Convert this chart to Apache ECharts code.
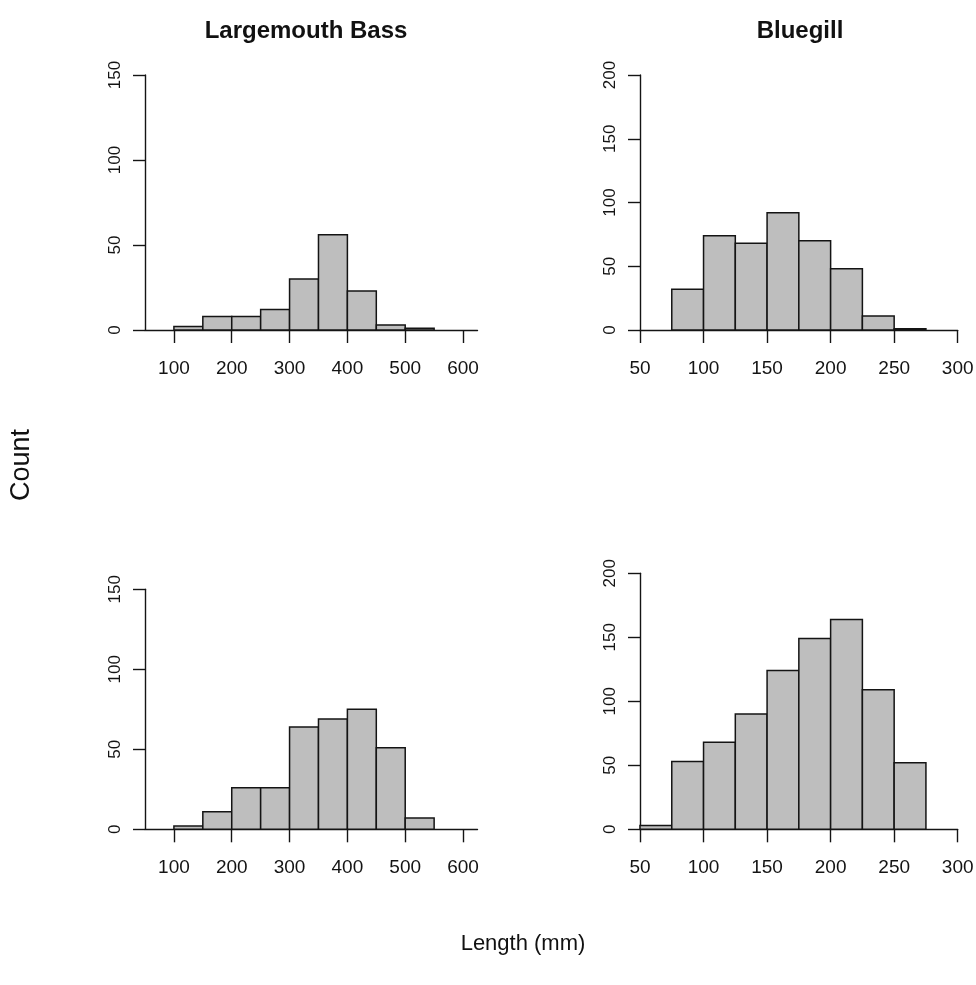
<!DOCTYPE html>
<html><head><meta charset="utf-8">
<script src="https://cdn.jsdelivr.net/npm/echarts@6/dist/echarts.min.js"></script>
<style>html,body{margin:0;padding:0;background:#fff}#c{width:976px;height:985px}</style>
</head><body><div id="c"></div>
<script>
// ---- data ----
const panelTitles = ['Largemouth Bass', 'Bluegill'];
const yAxisTitle = 'Count';
const xAxisTitle = 'Length (mm)';

const lmbBinWidth = 50;
const bgBinWidth = 25;

const lmbTopStarts = [100, 150, 200, 250, 300, 350, 400, 450, 500];
const lmbTopCounts = [2, 8, 8, 12, 30, 56, 23, 3, 1];

const bgTopStarts = [75, 100, 125, 150, 175, 200, 225, 250];
const bgTopCounts = [32, 74, 68, 92, 70, 48, 11, 1];

const lmbBottomStarts = [100, 150, 200, 250, 300, 350, 400, 450, 500];
const lmbBottomCounts = [2, 11, 26, 26, 64, 69, 75, 51, 7];

const bgBottomStarts = [50, 75, 100, 125, 150, 175, 200, 225, 250];
const bgBottomCounts = [3, 53, 68, 90, 124, 149, 164, 109, 52];

const lmbXTicks = [100, 200, 300, 400, 500, 600];
const bgXTicks = [50, 100, 150, 200, 250, 300];
const lmbYMax = 150;
const bgYMax = 200;

// ---- chart ----
const FONT = '"Liberation Sans", Arial, Helvetica, sans-serif';
const AX = '#141414';
const chart = echarts.init(document.getElementById('c'), null, {renderer: 'canvas'});

const grids = [
  {left: 145, top: 75, width: 332.5, height: 255},
  {left: 640, top: 75, width: 317.7, height: 255},
  {left: 145, top: 589.3, width: 332.5, height: 240},
  {left: 640, top: 573.3, width: 317.7, height: 256}
].map(g => Object.assign({containLabel: false, outerBoundsMode: 'none', show: false}, g));

function xAxis(i, min, max, ticks) {
  return {
    type: 'value', gridIndex: i, min: min, max: max, position: 'bottom',
    axisLine: {show: true, onZero: false, lineStyle: {color: AX, width: 1.4}},
    axisTick: {show: true, length: 13, customValues: ticks, lineStyle: {color: AX, width: 1.4}},
    axisLabel: {show: true, customValues: ticks, margin: 29, fontSize: 19, fontFamily: FONT, color: '#141414'},
    splitLine: {show: false}
  };
}
function yAxis(i, max) {
  return {
    type: 'value', gridIndex: i, min: 0, max: max, interval: 50,
    axisLine: {show: true, onZero: false, lineStyle: {color: AX, width: 1.4}},
    axisTick: {show: true, length: 12, lineStyle: {color: AX, width: 1.4}},
    axisLabel: {show: true, rotate: 90, margin: 21, fontSize: 17, fontFamily: FONT, color: '#141414'},
    splitLine: {show: false}
  };
}

function histSeries(i, starts, counts, w) {
  return {
    type: 'custom', xAxisIndex: i, yAxisIndex: i,
    encode: {x: 0, y: 1},
    clip: false,
    data: starts.map((s, k) => [s, counts[k]]),
    renderItem: function (params, api) {
      const x0 = api.value(0), c = api.value(1);
      const p0 = api.coord([x0, 0]);
      const p1 = api.coord([x0 + w, c]);
      return {
        type: 'rect',
        shape: {x: p0[0], y: p1[1], width: p1[0] - p0[0], height: p0[1] - p1[1]},
        style: {fill: '#bebebe', stroke: '#141414', lineWidth: 1.5}
      };
    },
    z: 3
  };
}

const option = {
  backgroundColor: '#ffffff',
  animation: false,
  grid: grids,
  xAxis: [
    xAxis(0, 50, 625, lmbXTicks),
    xAxis(1, 50, 300, bgXTicks),
    xAxis(2, 50, 625, lmbXTicks),
    xAxis(3, 50, 300, bgXTicks)
  ],
  yAxis: [yAxis(0, lmbYMax), yAxis(1, bgYMax), yAxis(2, lmbYMax), yAxis(3, bgYMax)],
  series: [
    histSeries(0, lmbTopStarts, lmbTopCounts, lmbBinWidth),
    histSeries(1, bgTopStarts, bgTopCounts, bgBinWidth),
    histSeries(2, lmbBottomStarts, lmbBottomCounts, lmbBinWidth),
    histSeries(3, bgBottomStarts, bgBottomCounts, bgBinWidth)
  ],
  graphic: [
    {type: 'text', x: 306, y: 31, style: {text: panelTitles[0], font: 'bold 24px ' + FONT, fill: '#111', textAlign: 'center', textVerticalAlign: 'middle'}},
    {type: 'text', x: 800, y: 31, style: {text: panelTitles[1], font: 'bold 24px ' + FONT, fill: '#111', textAlign: 'center', textVerticalAlign: 'middle'}},
    {type: 'text', x: 22, y: 465, rotation: Math.PI / 2, style: {text: yAxisTitle, font: '27px ' + FONT, fill: '#111', textAlign: 'center', textVerticalAlign: 'middle'}},
    {type: 'text', x: 523, y: 944, style: {text: xAxisTitle, font: '22px ' + FONT, fill: '#111', textAlign: 'center', textVerticalAlign: 'middle'}}
  ]
};
chart.setOption(option);
</script>
</body></html>
